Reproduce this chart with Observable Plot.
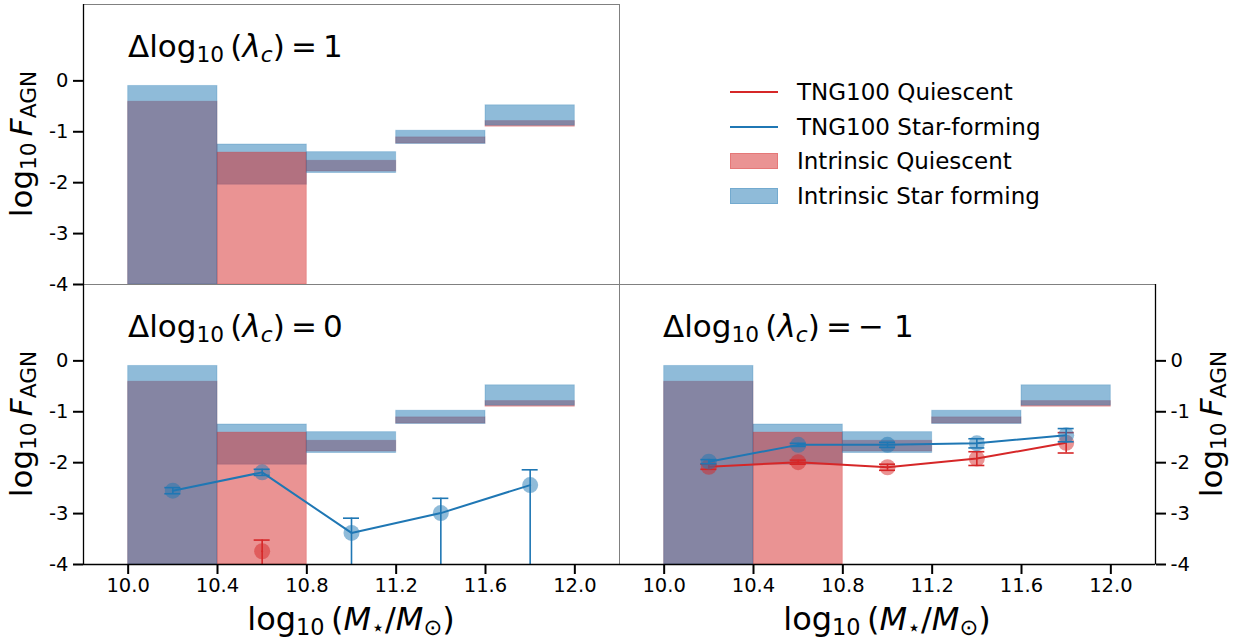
<!DOCTYPE html>
<html>
<head>
<meta charset="utf-8">
<script src="https://cdn.jsdelivr.net/npm/d3@7"></script>
<script src="https://cdn.jsdelivr.net/npm/@observablehq/plot@0.6"></script>
<style>
  html, body { margin: 0; padding: 0; background: #fff; }
  #fig { position: relative; width: 1241px; height: 642px; overflow: hidden; font-family: "DejaVu Sans", sans-serif; color: #000; }
  #fig svg { position: absolute; left: 0; top: 0; overflow: visible; }
  #fig svg text { font-size: 19.5px !important; font-family: "DejaVu Sans", sans-serif !important; fill: #000; }
  .t { position: absolute; white-space: nowrap; line-height: 1; }
  .t sub { font-size: 70%; vertical-align: -0.22em; line-height: 0; }
  .t i { font-style: oblique; }
  .ttl { font-size: 31px; }
  .axl { font-size: 32px; transform: translate(-50%, -50%); }
  .ayl { font-size: 31px; transform: translate(-50%, -50%) rotate(-90deg); }
  .leg { position: absolute; left: 729px; top: 75px; font-size: 23px; }
  .leg .row { position: absolute; left: 0; height: 34px; width: 340px; }
  .leg .h { position: absolute; left: 1px; width: 48px; }
  .leg .hl { height: 2px; top: 16px; }
  .leg .hp { height: 16px; top: 9px; box-sizing: border-box; }
  .leg .lt { position: absolute; left: 68px; top: 4px; white-space: nowrap; }
</style>
</head>
<body>
<div id="fig"></div>
<script>
// ---------------- data ----------------
const xDomain = [9.8, 12.2];
const yDomain = [-4, 1.5];
const xTicks = [10.0, 10.4, 10.8, 11.2, 11.6, 12.0];
const yTicks = [0, -1, -2, -3, -4];

// stellar-mass bins
const binLo = [10.0, 10.4, 10.8, 11.2, 11.6];
const binHi = [10.4, 10.8, 11.2, 11.6, 12.0];
const massMid = [10.2, 10.6, 11.0, 11.4, 11.8];

// intrinsic log10 F_AGN ranges (same in every panel)
const sfBottom = [-4, -2.04, -1.81, -1.24, -0.88];
const sfTop    = [-0.10, -1.25, -1.40, -0.98, -0.48];
const qBottom  = [-4, -4, -1.78, -1.23, -0.90];
const qTop     = [-0.41, -1.41, -1.57, -1.11, -0.79];
const sfDrawnOverQ = [true, false, true, true, true];

// TNG100, Δlog10(λc) = 0   (Infinity = error bar runs off the bottom)
const tng0SF      = [-2.55, -2.19, -3.38, -2.99, -2.44];
const tng0SFerrLo = [0.06, 0.06, Infinity, Infinity, Infinity];
const tng0SFerrHi = [0.06, 0.06, 0.29, 0.29, 0.30];
const tng0Q       = [null, -3.74, null, null, null];
const tng0QerrLo  = [null, Infinity, null, null, null];
const tng0QerrHi  = [null, 0.22, null, null, null];

// TNG100, Δlog10(λc) = -1
const tngM1SF    = [-1.98, -1.65, -1.65, -1.62, -1.46];
const tngM1SFerr = [0.04, 0.03, 0.05, 0.09, 0.13];
const tngM1Q     = [-2.08, -1.99, -2.09, -1.92, -1.61];
const tngM1Qerr  = [0.05, 0.04, 0.06, 0.135, 0.20];

const panelTitles = ["1", "0", "\u2212 1"];
const legendLabels = ["TNG100 Quiescent", "TNG100 Star-forming", "Intrinsic Quiescent", "Intrinsic Star forming"];

// ---------------- styling ----------------
const RED = "#d62728", BLUE = "#1f77b4";
const W = 1241, H = 642;

const bins = binLo.map((lo, i) => ({x1: lo, x2: binHi[i],
  sf1: sfBottom[i], sf2: sfTop[i], q1: qBottom[i], q2: qTop[i], sfTop: sfDrawnOverQ[i]}));

function series(vals, lo, hi) {
  return massMid.map((x, i) => ({
    x, y: vals[i],
    lo: vals[i] == null ? null : (isFinite(lo[i]) ? vals[i] - lo[i] : yDomain[0] - 1),
    hi: vals[i] == null ? null : vals[i] + hi[i],
    loCap: vals[i] != null && isFinite(lo[i])
  }));
}

function barMarks() {
  return [
    Plot.rect(bins.filter(d => !d.sfTop), {x1: "x1", x2: "x2", y1: "sf1", y2: "sf2", fill: BLUE, fillOpacity: 0.5, stroke: BLUE, strokeOpacity: 0.25, clip: true}),
    Plot.rect(bins, {x1: "x1", x2: "x2", y1: "q1", y2: "q2", fill: RED, fillOpacity: 0.5, stroke: RED, strokeOpacity: 0.25, clip: true}),
    Plot.rect(bins.filter(d => d.sfTop), {x1: "x1", x2: "x2", y1: "sf1", y2: "sf2", fill: BLUE, fillOpacity: 0.5, stroke: BLUE, strokeOpacity: 0.25, clip: true})
  ];
}

function tngMarks(data, color, capHalf) {
  const ok = data.filter(d => d.y != null);
  return [
    Plot.line(data, {x: "x", y: "y", stroke: color, strokeWidth: 2, clip: true}),
    Plot.ruleX(ok, {x: "x", y1: "lo", y2: "hi", stroke: color, strokeWidth: 1.6, clip: true}),
    Plot.ruleY(ok, {y: "hi", x1: d => d.x - capHalf, x2: d => d.x + capHalf, stroke: color, strokeWidth: 1.6, clip: true}),
    Plot.ruleY(ok.filter(d => d.loCap), {y: "lo", x1: d => d.x - capHalf, x2: d => d.x + capHalf, stroke: color, strokeWidth: 1.6, clip: true}),
    Plot.dot(ok, {x: "x", y: "y", r: 8, fill: color, fillOpacity: 0.5, stroke: null, clip: true})
  ];
}

function makePanel({left, right, top, bottom, yAnchor, showX, extra}) {
  const capHalf = 8 * (xDomain[1] - xDomain[0]) / (right - left);
  const marks = [
    ...barMarks(),
    ...(extra ? extra(capHalf) : []),
    Plot.frame({stroke: "#808080", strokeWidth: 1}),
  ];
  if (yAnchor) {
    marks.push(Plot.ruleX([yAnchor === "left" ? xDomain[0] : xDomain[1]], {stroke: "#000", strokeWidth: 1.3}));
    marks.push(Plot.axisY({anchor: yAnchor, ticks: yTicks, tickFormat: d => String(d), tickSize: 10, tickPadding: 5, strokeWidth: 2, fontSize: 19.5, label: null}));
  }
  if (showX) {
    marks.push(Plot.ruleY([yDomain[0]], {stroke: "#000", strokeWidth: 1.5}));
    marks.push(Plot.axisX({anchor: "bottom", ticks: xTicks, tickFormat: d => d.toFixed(1), tickSize: 10, tickPadding: 4, strokeWidth: 2, fontSize: 19.5, label: null}));
  }
  return Plot.plot({
    width: W, height: H,
    marginLeft: left, marginRight: W - right, marginTop: top, marginBottom: H - bottom,
    x: {domain: xDomain, axis: null},
    y: {domain: yDomain, axis: null},
    style: {background: "transparent", fontFamily: "DejaVu Sans", fontSize: "19.5px", color: "#000", overflow: "visible"},
    marks
  });
}

const fig = document.getElementById("fig");
const L0 = 83, L1 = 619, R1 = 1155, T0 = 4, T1 = 284, B1 = 564;

fig.appendChild(makePanel({left: L0, right: L1, top: T0, bottom: T1, yAnchor: "left", showX: false}));
fig.appendChild(makePanel({left: L0, right: L1, top: T1, bottom: B1, yAnchor: "left", showX: true,
  extra: c => [...tngMarks(series(tng0SF, tng0SFerrLo, tng0SFerrHi), BLUE, c),
               ...tngMarks(series(tng0Q, tng0QerrLo, tng0QerrHi), RED, c)]}));
fig.appendChild(makePanel({left: L1, right: R1, top: T1, bottom: B1, yAnchor: "right", showX: true,
  extra: c => [...tngMarks(series(tngM1Q, tngM1Qerr, tngM1Qerr), RED, c),
               ...tngMarks(series(tngM1SF, tngM1SFerr, tngM1SFerr), BLUE, c)]}));

// ---------------- text ----------------
function addText(cls, html, style) {
  const d = document.createElement("div");
  d.className = "t " + cls;
  d.innerHTML = html;
  Object.assign(d.style, style);
  fig.appendChild(d);
}
const titleHTML = v => `\u0394log<sub>10</sub>\u2009(<i>\u03bb</i><sub><i>c</i></sub>)\u2009=\u2009${v}`;
addText("ttl", titleHTML(panelTitles[0]), {left: "128px", top: "31px"});
addText("ttl", titleHTML(panelTitles[1]), {left: "128px", top: "311px"});
addText("ttl", titleHTML(panelTitles[2]), {left: "663px", top: "311px"});

const xLab = `log<sub>10</sub>\u2009(<i>M</i><sub>\u22c6</sub>/<i>M</i><sub>\u2299</sub>)`;
const yLab = `log<sub>10</sub>\u2009<i>F</i><sub>AGN</sub>`;
addText("axl", xLab, {left: ((L0 + L1) / 2) + "px", top: "619px"});
addText("axl", xLab, {left: ((L1 + R1) / 2) + "px", top: "619px"});
addText("ayl", yLab, {left: "21px", top: ((T0 + T1) / 2) + "px"});
addText("ayl", yLab, {left: "21px", top: ((T1 + B1) / 2) + "px"});
addText("ayl", yLab, {left: "1211px", top: ((T1 + B1) / 2) + "px"});

// ---------------- legend ----------------
const leg = document.createElement("div");
leg.className = "leg";
const handles = [
  `<div class="h hl" style="background:${RED}"></div>`,
  `<div class="h hl" style="background:${BLUE}"></div>`,
  `<div class="h hp" style="background:rgba(214,39,40,0.5);border:1px solid rgba(214,39,40,0.25)"></div>`,
  `<div class="h hp" style="background:rgba(31,119,180,0.5);border:1px solid rgba(31,119,180,0.25)"></div>`
];
legendLabels.forEach((lab, i) => {
  const r = document.createElement("div");
  r.className = "row";
  r.style.top = (i * 34.7) + "px";
  r.innerHTML = handles[i] + `<span class="lt">${lab}</span>`;
  leg.appendChild(r);
});
fig.appendChild(leg);
</script>
</body>
</html>
